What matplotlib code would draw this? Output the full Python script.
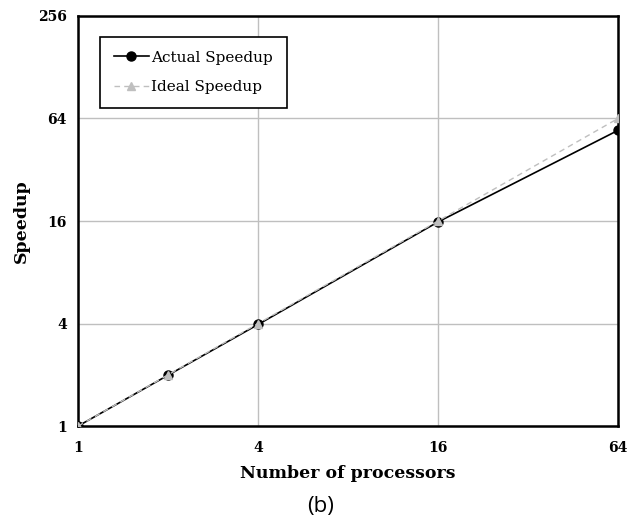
import matplotlib
matplotlib.use('Agg')
from matplotlib import pyplot as plt

# data
processors = [1, 2, 4, 16, 64]
actual_speedup = [1, 1.99, 3.95, 15.8, 54.5]
ideal_speedup = [1, 2, 4, 16, 64]

x_ticks = [1, 4, 16, 64]
y_ticks = [1, 4, 16, 64, 256]

plt.rcParams['font.family'] = 'DejaVu Serif'

fig = plt.figure(figsize=(6.41, 5.30), dpi=100)
ax = fig.add_axes([0.1217, 0.196, 0.8425, 0.774])

ax.plot(processors, ideal_speedup, color='#BFBFBF', linestyle=(0, (4, 3)), linewidth=1,
        marker='^', markersize=6, markerfacecolor='#BFBFBF', markeredgecolor='#BFBFBF',
        label='Ideal Speedup', zorder=3)
ax.plot(processors, actual_speedup, color='black', linewidth=1.2,
        marker='o', markersize=6.5, label='Actual Speedup', zorder=2)

ax.set_xscale('log', base=2)
ax.set_yscale('log', base=2)
ax.set_xlim(1, 64)
ax.set_ylim(1, 256)
ax.set_xticks(x_ticks)
ax.set_xticklabels([str(t) for t in x_ticks])
ax.set_yticks(y_ticks)
ax.set_yticklabels([str(t) for t in y_ticks])
ax.minorticks_off()
ax.tick_params(length=0, labelsize=10, pad=8)
ax.tick_params(axis='x', pad=11)
for lbl in ax.get_xticklabels() + ax.get_yticklabels():
    lbl.set_fontweight('bold')

ax.grid(True, color='#BFBFBF', linewidth=1)
ax.set_axisbelow(True)
for s in ax.spines.values():
    s.set_linewidth(1.8)

ax.set_xlabel('Number of processors', fontsize=12.5, fontweight='bold', labelpad=7)
ax.set_ylabel('Speedup', fontsize=12.5, fontweight='bold', labelpad=6)

handles, labels = ax.get_legend_handles_labels()
leg = ax.legend(handles[::-1], labels[::-1], loc='upper left', bbox_to_anchor=(0.041, 0.949),
                borderaxespad=0, fontsize=11, fancybox=False, edgecolor='black', framealpha=1,
                handlelength=2.3, handletextpad=0.15, borderpad=0.9, labelspacing=1.0)
leg.get_frame().set_linewidth(1.2)

fig.text(0.5, 0.045, '(b)', ha='center', va='center', fontsize=16, family='Open Sans')

fig.savefig('out.png', dpi=100)
